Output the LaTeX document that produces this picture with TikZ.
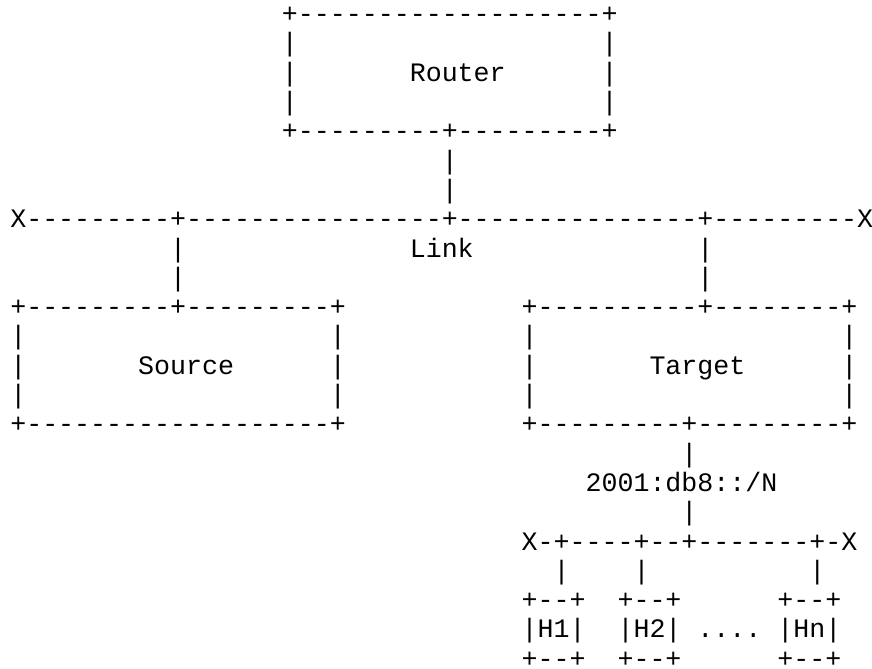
\documentclass[tikz,border=0pt]{standalone}
\usepackage{fontspec}
\newfontfamily\asciimono{Liberation Mono}
% place a run of characters on the character grid: name, column, row, text
\newcommand\gridtext[4]{%
  \node[asc] (#1) at ({10.3+15.98*(#2)},{22.7+29.3*(#3)}) {#4};}
\begin{document}
\begin{tikzpicture}[x=0.37547pt,y=-0.37547pt,
  asc/.style={inner sep=0pt,outer sep=0pt,anchor=base west,
    font=\asciimono\fontsize{10}{11}\selectfont}]
\fill[white] (0,0) rectangle (872,669);
\useasboundingbox (0,0) rectangle (872,669);
% Router box
\gridtext{rtTop}{17}{0}{+-------------------+}
\gridtext{rtL1}{17}{1}{|}\gridtext{rtR1}{37}{1}{|}
\gridtext{rtL2}{17}{2}{|}\gridtext{router}{25}{2}{Router}\gridtext{rtR2}{37}{2}{|}
\gridtext{rtL3}{17}{3}{|}\gridtext{rtR3}{37}{3}{|}
\gridtext{rtBot}{17}{4}{+---------+---------+}
\gridtext{rtUp1}{27}{5}{|}
\gridtext{rtUp2}{27}{6}{|}
% shared link
\gridtext{link}{0}{7}{X---------+----------------+---------------+---------X}
\gridtext{srcUp1}{10}{8}{|}\gridtext{linkLabel}{25}{8}{Link}\gridtext{tgtUp1}{43}{8}{|}
\gridtext{srcUp2}{10}{9}{|}\gridtext{tgtUp2}{43}{9}{|}
% Source and Target boxes
\gridtext{srcTop}{0}{10}{+---------+---------+}
\gridtext{tgtTop}{32}{10}{+----------+--------+}
\gridtext{srcL1}{0}{11}{|}\gridtext{srcR1}{20}{11}{|}
\gridtext{tgtL1}{32}{11}{|}\gridtext{tgtR1}{52}{11}{|}
\gridtext{srcL2}{0}{12}{|}\gridtext{source}{8}{12}{Source}\gridtext{srcR2}{20}{12}{|}
\gridtext{tgtL2}{32}{12}{|}\gridtext{target}{40}{12}{Target}\gridtext{tgtR2}{52}{12}{|}
\gridtext{srcL3}{0}{13}{|}\gridtext{srcR3}{20}{13}{|}
\gridtext{tgtL3}{32}{13}{|}\gridtext{tgtR3}{52}{13}{|}
\gridtext{srcBot}{0}{14}{+-------------------+}
\gridtext{tgtBot}{32}{14}{+---------+---------+}
% prefix towards the hosts
\gridtext{pfxUp}{42}{15}{|}
\gridtext{prefix}{36}{16}{2001:db8::/N}
\gridtext{pfxDn}{42}{17}{|}
\gridtext{hostLink}{32}{18}{X-+----+--+-------+-X}
\gridtext{hOneUp}{34}{19}{|}\gridtext{hTwoUp}{39}{19}{|}\gridtext{hNUp}{50}{19}{|}
% hosts
\gridtext{hOneTop}{32}{20}{+--+}\gridtext{hTwoTop}{38}{20}{+--+}\gridtext{hNTop}{48}{20}{+--+}
\gridtext{hOne}{32}{21}{|H1|}\gridtext{hTwo}{38}{21}{|H2|}\gridtext{dots}{43}{21}{....}\gridtext{hN}{48}{21}{|Hn|}
\gridtext{hOneBot}{32}{22}{+--+}\gridtext{hTwoBot}{38}{22}{+--+}\gridtext{hNBot}{48}{22}{+--+}
\end{tikzpicture}
\end{document}
